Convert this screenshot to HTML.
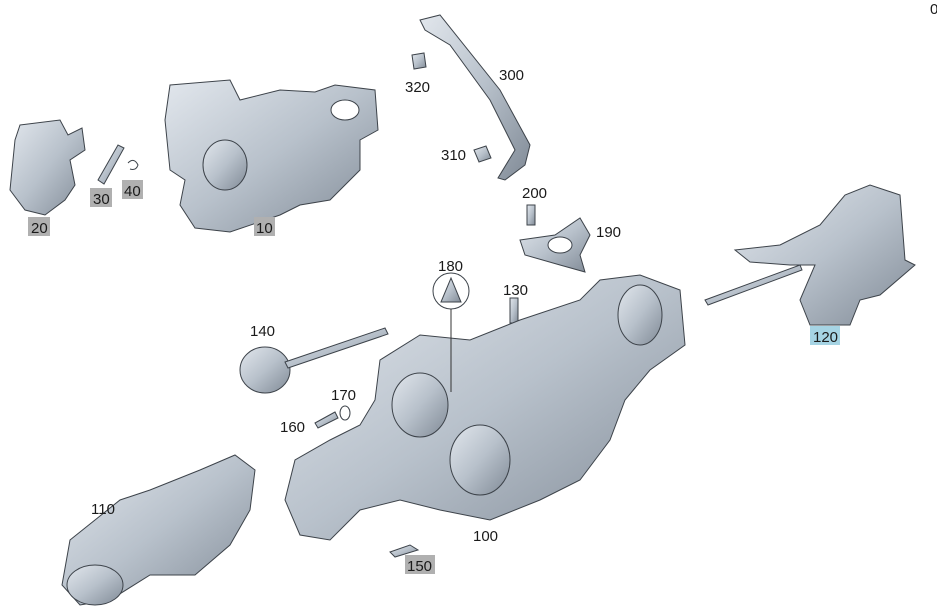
<!DOCTYPE html>
<html><head><meta charset="utf-8"><style>
html,body{margin:0;padding:0;background:#fff;}
svg{display:block;}
text{font-family:"Liberation Sans",sans-serif;font-size:15px;fill:#1a1a1a;}
</style></head><body>
<svg width="937" height="613" viewBox="0 0 937 613" xmlns="http://www.w3.org/2000/svg">
<defs>
<linearGradient id="g" x1="0" y1="0" x2="1" y2="1">
<stop offset="0" stop-color="#e2e7ed"/><stop offset="0.5" stop-color="#b8c1cb"/><stop offset="1" stop-color="#808a96"/>
</linearGradient>
</defs>
<g fill="url(#g)" stroke="#3d434a" stroke-width="1">
<path d="M20 125 L60 120 L68 135 L82 128 L85 150 L70 160 L75 185 L65 200 L45 215 L25 210 L10 190 L15 140 Z"/>
<path d="M98 180 L118 145 L124 148 L104 184 Z"/>
<path d="M128 163 q6 -6 10 2 q-2 6 -8 4" fill="none"/>
<path d="M170 85 L230 80 L240 100 L280 90 L315 92 L335 85 L375 90 L378 130 L360 140 L360 170 L330 200 L300 205 L280 215 L230 232 L195 228 L180 205 L185 180 L170 170 L165 120 Z"/>
<ellipse cx="225" cy="165" rx="22" ry="25"/>
<ellipse cx="345" cy="110" rx="14" ry="10" fill="#fff"/>
<path d="M420 20 L440 15 L500 90 L530 145 L525 165 L505 180 L498 178 L515 150 L490 100 L450 45 L425 30 Z"/>
<path d="M412 55 l12 -2 l2 14 l-12 2 Z"/>
<path d="M474 150 l12 -4 l5 12 l-12 4 Z"/>
<path d="M527 205 l8 0 l0 20 l-8 0 Z"/>
<path d="M520 240 L555 235 L580 218 L590 235 L580 255 L585 272 L560 265 L525 255 Z"/>
<ellipse cx="560" cy="245" rx="12" ry="8" fill="#fff"/>
<path d="M735 250 L780 245 L820 225 L845 195 L870 185 L900 195 L905 260 L915 265 L880 295 L860 300 L850 325 L810 325 L800 300 L815 265 L790 265 L750 262 Z"/>
<path d="M705 300 L800 265 L802 270 L708 305 Z"/>
<circle cx="451" cy="291" r="18" fill="#fff"/>
<path d="M441 302 L451 278 L461 302 Z"/>
<path d="M510 298 l8 0 l0 25 l-8 0 Z"/>
<ellipse cx="265" cy="370" rx="25" ry="23"/>
<path d="M285 362 L385 328 L388 334 L288 368 Z"/>
<path d="M315 423 L335 412 L338 418 L318 428 Z"/>
<ellipse cx="345" cy="413" rx="5" ry="7" fill="none"/>
<path d="M380 360 L420 335 L470 340 L520 320 L580 300 L600 280 L640 275 L680 290 L685 345 L650 370 L625 400 L610 440 L580 480 L540 500 L490 520 L440 510 L400 500 L360 510 L330 540 L300 535 L285 500 L295 460 L330 440 L360 425 L375 400 Z"/>
<ellipse cx="640" cy="315" rx="22" ry="30"/>
<ellipse cx="480" cy="460" rx="30" ry="35"/>
<ellipse cx="420" cy="405" rx="28" ry="32"/>
<path d="M70 540 L120 500 L150 490 L200 470 L235 455 L255 470 L250 510 L230 545 L195 575 L150 575 L110 600 L80 605 L62 585 Z"/>
<ellipse cx="95" cy="585" rx="28" ry="20"/>
<path d="M390 552 L410 545 L418 550 L395 557 Z"/>
</g>
<line x1="451" y1="309" x2="451" y2="392" stroke="#333" stroke-width="1"/>
<rect x="28" y="217" width="22" height="19" fill="#b0b0b0"/><text x="31" y="233">20</text>
<rect x="90" y="188" width="22" height="19" fill="#b0b0b0"/><text x="93" y="204">30</text>
<rect x="122" y="180" width="21" height="19" fill="#b0b0b0"/><text x="124" y="196">40</text>
<rect x="254" y="217" width="21" height="19" fill="#b0b0b0"/><text x="256" y="233">10</text>
<rect x="810" y="326" width="30" height="19" fill="#a6d4e4"/><text x="813" y="342">120</text>
<rect x="405" y="555" width="30" height="19" fill="#b0b0b0"/><text x="407" y="571">150</text>
<text x="405" y="92">320</text>
<text x="499" y="80">300</text>
<text x="441" y="160">310</text>
<text x="522" y="198">200</text>
<text x="596" y="237">190</text>
<text x="438" y="271">180</text>
<text x="503" y="295">130</text>
<text x="250" y="336">140</text>
<text x="331" y="400">170</text>
<text x="280" y="432">160</text>
<text x="91" y="514">110</text>
<text x="473" y="541">100</text>
<text x="930" y="14">0</text>
</svg>
</body></html>
